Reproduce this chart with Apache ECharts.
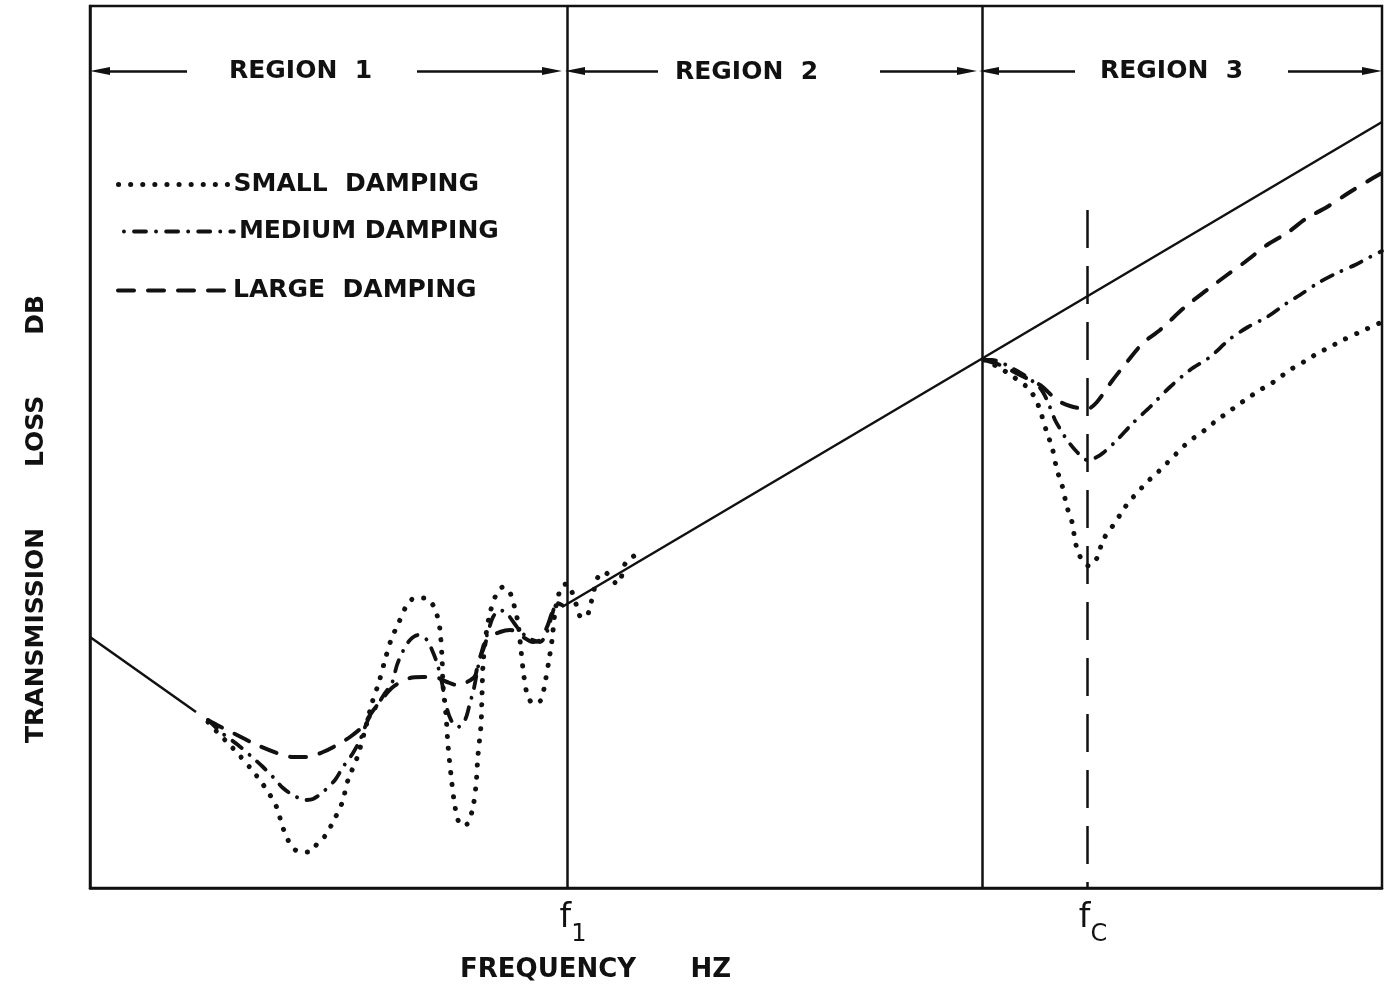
<!DOCTYPE html>
<html>
<head>
<meta charset="utf-8">
<title>Transmission loss vs frequency</title>
<script src="https://cdn.jsdelivr.net/npm/echarts@6/dist/echarts.min.js"></script>
<style>
  html, body { margin: 0; padding: 0; background: #fff; }
  #chart { width: 1386px; height: 988px; }
</style>
</head>
<body>
<div id="chart"></div>
<script>
// Axis extents (arbitrary frequency / level units, no numeric ticks)
const X_MAX = 129.2;
const Y_MAX = 88.2;

// Characteristic frequencies and region boundaries
const F1 = 47.7;        // first panel resonance
const F_REGION3 = 89.2; // start of coincidence region
const FC = 99.7;        // critical (coincidence) frequency
const FC_TOP = 67.8;    // top of the fc marker

// Idealised straight-line laws
const stiffnessLine = [[0, 25.1], [10.6, 17.6]];
const massLine = [[47.2, 28.1], [129.2, 76.6]];

// Small damping
const smallRegion1 = [
  [11.8,16.6],[12.8,15.5],[13.8,14.5],[15.0,13.2],[16.2,11.8],[17.2,10.5],[18.0,9.3],[18.7,8.0],
  [19.2,6.3],[19.7,5.0],[20.3,4.0],[21.0,3.6],[22.0,3.6],[22.7,4.4],[23.5,5.2],[24.3,6.6],
  [25.2,8.5],[25.8,10.8],[26.7,13.0],[27.5,15.8],[28.2,18.5],[28.9,20.6],[29.5,22.8],[30.1,24.8],
  [30.9,26.6],[31.7,28.3],[32.5,29.0],[33.5,29.0],[34.3,28.3],[34.7,27.3],[35.0,25.8],[35.2,23.1],
  [35.3,20.3],[35.6,17.3],[35.8,14.3],[36.1,11.3],[36.4,8.8],[36.8,6.8],[37.3,6.2],[37.8,6.5],
  [38.3,8.1],[38.6,10.3],[38.8,13.3],[39.1,16.3],[39.2,19.3],[39.3,22.3],[39.6,25.3],[40.0,27.5],
  [40.6,29.3],[41.3,30.1],[42.0,29.5],[42.4,28.3],[42.8,26.5],[43.1,23.8],[43.4,21.1],[43.8,19.1],
  [44.4,18.4],[45.1,18.8],[45.5,20.5],[45.9,22.8],[46.2,24.8],[46.5,27.6],[46.8,29.1],[47.2,30.2],
  [47.7,30.4],[48.2,29.6],[48.7,28.1],[49.1,27.1],[49.6,27.1],[50.0,28.1],[50.4,29.8],[50.8,31.1],
  [51.4,31.6],[52.0,31.2],[52.7,30.4],[53.1,31.0],[53.5,32.4],[54.2,33.1],[55.0,33.4]
];
const smallRegion3 = [
  [89.4,52.8],[91.0,52.0],[92.5,51.0],[93.8,50.0],[94.5,49.0],[95.0,47.8],[95.7,45.5],[96.2,44.1],
  [96.7,41.8],[97.2,40.3],[97.7,38.1],[98.2,36.6],[98.5,34.8],[98.8,33.6],[99.4,32.5],[99.9,32.2],
  [100.7,33.0],[101.3,34.8],[102.2,36.1],[103.0,37.3],[103.8,38.5],[104.7,39.5],[105.7,40.6],
  [106.7,41.5],[107.5,42.3],[108.5,43.3],[109.5,44.3],[110.5,45.1],[111.5,45.8],[112.7,46.8],
  [113.7,47.5],[114.8,48.3],[115.8,49.0],[117.0,49.8],[118.2,50.5],[119.3,51.3],[120.3,52.0],
  [121.7,52.8],[122.8,53.5],[123.8,54.0],[125.3,54.8],[127.0,55.6],[129.2,56.6]
];

// Medium damping
const mediumRegion1 = [
  [11.8,16.8],[13.2,15.5],[14.8,14.3],[16.2,13.1],[17.3,12.1],[18.3,11.1],[19.3,10.0],[20.3,9.3],
  [21.5,8.8],[22.3,8.9],[23.3,9.6],[24.5,10.8],[25.3,12.1],[26.3,13.5],[27.0,14.8],[27.8,16.8],
  [28.7,18.2],[29.5,19.5],[30.2,20.5],[30.7,22.3],[31.3,23.7],[32.0,24.8],[32.8,25.3],[33.7,24.8],
  [34.2,23.8],[34.7,22.5],[35.2,20.5],[35.6,18.3],[36.1,16.8],[36.8,16.1],[37.5,16.8],[38.0,18.5],
  [38.4,20.0],[38.8,22.1],[39.3,24.1],[39.8,25.6],[40.3,27.1],[41.0,27.8],[41.8,27.3],[42.7,26.1],
  [43.7,25.1],[45.0,24.6],[45.7,25.6],[46.2,27.3],[46.7,28.5],[47.2,28.3]
];
const mediumRegion3 = [
  [89.4,52.8],[90.2,52.8],[91.0,52.6],[92.0,52.1],[93.7,51.1],[95.0,50.0],[95.7,48.8],[96.5,46.8],
  [97.2,45.6],[97.7,44.8],[98.7,43.6],[99.7,42.8],[100.5,43.0],[101.3,43.5],[102.7,44.8],[104.3,46.5],
  [106.0,48.1],[108.0,50.1],[110.0,51.8],[112.0,53.1],[114.0,54.9],[115.8,56.1],[117.7,57.1],
  [119.7,58.5],[121.0,59.3],[122.8,60.5],[124.7,61.5],[126.5,62.3],[128.0,63.1],[129.2,63.7]
];

// Large damping
const largeRegion1 = [
  [11.8,16.8],[12.7,16.3],[14.3,15.5],[16.7,14.3],[18.7,13.5],[20.3,13.1],[21.7,13.1],[23.3,13.6],
  [24.7,14.3],[26.0,15.1],[27.2,16.1],[28.2,17.6],[29.3,19.0],[30.3,20.1],[32.0,21.0],[33.3,21.1],
  [34.8,21.0],[35.7,20.6],[36.7,20.3],[37.7,20.6],[38.5,21.2],[38.8,22.5],[39.3,23.8],[39.8,25.0],
  [41.0,25.6],[42.0,25.8],[42.7,25.6],[43.3,25.1],[44.3,24.6],[45.0,24.8],[45.7,26.1],[46.2,27.5],
  [46.7,28.5],[47.2,28.3]
];
const largeRegion3 = [
  [89.4,52.8],[91.0,52.3],[93.0,51.3],[95.0,50.3],[96.7,48.8],[98.0,48.2],[99.7,47.9],[100.7,48.6],
  [102.2,50.7],[103.7,52.6],[105.3,54.5],[107.0,55.8],[109.5,58.1],[111.7,59.8],[113.7,61.3],
  [115.5,62.6],[117.7,64.3],[119.7,65.5],[121.7,67.0],[123.7,68.1],[126.0,69.6],[128.3,71.0],[129.2,71.5]
];

// Region spans: arrow-head centres of the left and right arrow segments at REGION_ARROW_Y
const REGION_ARROW_Y = 81.7;
const regionArrows = [
  [[1.0, 9.7], [32.7, 46.2]],
  [[48.5, 56.8], [79.0, 87.7]],
  [[89.9, 98.5], [119.8, 128.2]]
];
const regionNames = ['REGION  1', 'REGION  2', 'REGION  3'];
const seriesNames = ['SMALL  DAMPING', 'MEDIUM DAMPING', 'LARGE  DAMPING'];
const axisTitleY = 'TRANSMISSION       LOSS       DB';
const axisTitleX = 'FREQUENCY      HZ';

const INK = '#111';
const FONT = '"DejaVu Sans", "Liberation Sans", sans-serif';
const TEXT_FONT = 'bold 25px ' + FONT;

// Round caps widen every dash by the line width, so the gaps are sized for that.
const dotted = { color: INK, width: 5, type: [0.1, 12], cap: 'round' };
const dashDot = { color: INK, width: 3.8, type: [12, 10, 0.1, 10], cap: 'round' };
const dashed = { color: INK, width: 4, type: [16, 14], cap: 'round' };

function curve(name, data, lineStyle) {
  return {
    name, type: 'line', data, smooth: 0.3, symbol: 'none', showSymbol: false,
    lineStyle, itemStyle: { color: INK }, silent: true, animation: false, z: 3
  };
}

function arrowSegments() {
  const out = [];
  const head = { symbol: 'triangle', symbolSize: [8, 20] };
  regionArrows.forEach(([left, right]) => {
    out.push([
      Object.assign({ coord: [left[0], REGION_ARROW_Y] }, head),
      { coord: [left[1], REGION_ARROW_Y], symbol: 'none' }
    ]);
    out.push([
      { coord: [right[0], REGION_ARROW_Y], symbol: 'none' },
      Object.assign({ coord: [right[1], REGION_ARROW_Y] }, head)
    ]);
  });
  return out;
}

// "f" with a lowered subscript: both tokens sit on the box bottom, the "f" is lifted by its padding
const subLabel = sub => ({
  show: true, position: 'end', distance: 23, offset: [6, 0],
  formatter: '{f|f}{s|' + sub + '}',
  rich: {
    f: { fontFamily: FONT, fontSize: 33, lineHeight: 36, padding: [0, 0, 12, 0], color: INK, verticalAlign: 'bottom' },
    s: { fontFamily: FONT, fontSize: 24, lineHeight: 28, color: INK, verticalAlign: 'bottom' }
  }
});

const legendRow = (name, left, top, lineStyle, dashOffset) => ({
  data: [name], left, top, itemWidth: 110, itemHeight: 14,
  orient: 'horizontal', padding: 0, selectedMode: false, itemGap: 0,
  itemStyle: { color: 'rgba(0,0,0,0)', borderWidth: 0 },
  lineStyle: Object.assign({}, lineStyle, { dashOffset: dashOffset || 0 }),
  textStyle: { color: INK, fontFamily: FONT, fontWeight: 'bold', fontSize: 25 }
});

const chart = echarts.init(document.getElementById('chart'), null, { renderer: 'canvas' });

chart.setOption({
  backgroundColor: '#fff',
  animation: false,
  grid: { left: 90, right: 4, top: 6, bottom: 100, show: true, borderColor: INK, borderWidth: 2.5 },
  xAxis: {
    type: 'value', min: 0, max: X_MAX,
    axisLine: { show: true, onZero: false, lineStyle: { color: INK, width: 2.5 } },
    axisTick: { show: false }, axisLabel: { show: false }, splitLine: { show: false }
  },
  yAxis: {
    type: 'value', min: 0, max: Y_MAX,
    axisLine: { show: true, onZero: false, lineStyle: { color: INK, width: 2.5 } },
    axisTick: { show: false }, axisLabel: { show: false }, splitLine: { show: false }
  },
  legend: [
    legendRow(seriesNames[0], 116, 172, dotted),
    legendRow(seriesNames[1], 122, 219, dashDot, 22),
    legendRow(seriesNames[2], 116, 278, dashed)
  ],
  graphic: [
    { type: 'text', style: { text: regionNames[0], x: 229, y: 71, align: 'left', verticalAlign: 'middle', font: TEXT_FONT, fill: INK } },
    { type: 'text', style: { text: regionNames[1], x: 675, y: 72, align: 'left', verticalAlign: 'middle', font: TEXT_FONT, fill: INK } },
    { type: 'text', style: { text: regionNames[2], x: 1100, y: 71, align: 'left', verticalAlign: 'middle', font: TEXT_FONT, fill: INK } },
    { type: 'text', x: 36, y: 519, rotation: Math.PI / 2,
      style: { text: axisTitleY, x: 0, y: 0, align: 'center', verticalAlign: 'middle', font: TEXT_FONT, fill: INK } },
    { type: 'text', style: { text: axisTitleX, x: 460, y: 970, align: 'left', verticalAlign: 'middle', font: 'bold 26px ' + FONT, fill: INK } }
  ],
  series: [
    curve(seriesNames[0], smallRegion1, dotted),
    curve(seriesNames[0], smallRegion3, dotted),
    curve(seriesNames[1], mediumRegion1, dashDot),
    curve(seriesNames[1], mediumRegion3, dashDot),
    curve(seriesNames[2], largeRegion1, dashed),
    curve(seriesNames[2], largeRegion3, dashed),
    {
      name: 'stiffness', type: 'line', data: stiffnessLine, symbol: 'none', silent: true, animation: false,
      lineStyle: { color: INK, width: 2.5 }, z: 2
    },
    {
      name: 'mass law', type: 'line', data: massLine, symbol: 'none', silent: true, animation: false,
      lineStyle: { color: INK, width: 2.5 }, z: 2,
      markLine: {
        silent: true, animation: false, symbol: 'none',
        label: { show: false },
        lineStyle: { color: INK, width: 2.5, type: 'solid' },
        emphasis: { disabled: true },
        data: [
          [ { coord: [F1, Y_MAX], label: subLabel('1') }, { coord: [F1, 0] } ],
          [ { coord: [F_REGION3, Y_MAX] }, { coord: [F_REGION3, 0] } ],
          [ { coord: [FC, FC_TOP], label: subLabel('C'), lineStyle: { type: [38, 18], width: 2.5, color: INK } },
            { coord: [FC, 0] } ]
        ].concat(arrowSegments())
      }
    }
  ]
});
</script>
</body>
</html>
